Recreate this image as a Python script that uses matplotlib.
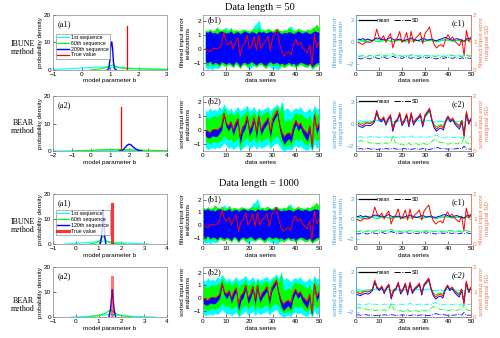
import matplotlib
matplotlib.use('Agg')
import matplotlib.pyplot as plt
import numpy as np

# --- Data ---
t_short = np.arange(1, 51)
true_err = [0.0, -0.1, -0.2, 0.0, 0.05, 0.0, 0.1, 0.3, 1.2, 0.5,
            0.3, 0.6, 0.0, 0.5, 0.8, -0.5, 0.2, 0.4, 1.0, 0.0,
            0.3, 0.9, -0.1, 1.0, 0.0, 0.4, 0.6, 0.9, -0.1, 0.8,
            1.1, 1.4, 0.4, -0.2, -0.5, -0.3, -0.2, -0.4, 0.3, 0.7,
            0.3, 0.5, 0.1, -0.1, -0.3, 0.3, -1.2, 1.1, 0.1, 0.5]

# IBUNE filtered realizations (band edges)
ib_blue_hi = [1.25, 1.2, 1.3, 1.15, 1.2, 1.1, 1.25, 1.3, 1.2, 1.15,
              1.2, 1.3, 1.1, 1.2, 1.25, 1.1, 1.2, 1.3, 1.2, 1.15,
              1.25, 1.2, 1.1, 1.3, 1.2, 1.25, 1.15, 1.2, 1.3, 1.2,
              1.25, 1.35, 1.2, 1.1, 1.2, 1.15, 1.25, 1.2, 1.1, 1.2,
              1.3, 1.2, 1.15, 1.25, 1.2, 1.1, 1.2, 1.3, 1.25, 1.2]
ib_blue_lo = [-0.9, -1.0, -0.85, -1.1, -0.95, -1.0, -1.15, -0.9, -1.0, -1.1,
              -0.95, -1.05, -1.2, -0.9, -1.0, -1.25, -1.0, -0.95, -1.1, -1.0,
              -0.9, -1.05, -1.15, -1.0, -0.95, -1.1, -1.2, -1.0, -0.9, -1.05,
              -1.0, -0.95, -1.1, -1.0, -1.15, -1.05, -0.95, -1.1, -1.0, -1.2,
              -1.05, -0.95, -1.0, -1.1, -1.15, -1.0, -1.3, -1.1, -1.0, -0.95]
ib_green_hi = [1.4, 1.3, 1.45, 1.3, 1.35, 1.6, 1.4, 1.35, 1.5, 1.3,
               1.35, 1.55, 1.3, 1.4, 1.35, 1.3, 1.45, 1.4, 1.35, 1.3,
               1.4, 1.5, 1.35, 1.6, 1.3, 1.4, 1.35, 1.5, 1.4, 1.3,
               1.45, 1.5, 1.35, 1.3, 1.4, 1.35, 1.6, 1.4, 1.3, 1.35,
               1.5, 1.4, 1.35, 1.3, 1.45, 1.35, 1.5, 1.6, 1.8, 1.5]
ib_green_lo = [-1.1, -1.25, -1.0, -1.2, -1.15, -1.1, -1.3, -1.05, -1.2, -1.25,
               -1.1, -1.2, -1.35, -1.05, -1.2, -1.4, -1.15, -1.1, -1.3, -1.2,
               -1.05, -1.2, -1.3, -1.15, -1.1, -1.25, -1.4, -1.2, -1.05, -1.2,
               -1.15, -1.1, -1.3, -1.2, -1.35, -1.2, -1.1, -1.25, -1.2, -1.35,
               -1.2, -1.1, -1.2, -1.3, -1.3, -1.15, -1.45, -1.3, -1.2, -1.1]
ib_cyan_hi = [1.35, 1.3, 1.4, 1.3, 1.3, 1.5, 1.35, 1.3, 1.45, 1.6,
              1.3, 1.5, 1.3, 1.35, 1.3, 1.3, 1.4, 1.35, 1.3, 1.3,
              1.35, 1.7, 1.8, 2.1, 1.5, 1.35, 1.3, 1.45, 1.35, 1.3,
              1.4, 1.45, 1.3, 1.3, 1.35, 1.3, 1.5, 1.7, 1.3, 1.3,
              1.45, 1.35, 1.3, 1.3, 1.4, 1.3, 1.45, 1.55, 1.7, 1.45]
ib_cyan_lo = [-1.3, -1.45, -1.35, -1.5, -1.3, -1.4, -1.35, -1.05, -1.15, -1.2,
              -1.05, -1.15, -1.3, -1.0, -1.15, -1.35, -1.1, -1.05, -1.3, -1.45,
              -1.3, -1.15, -1.25, -1.1, -1.05, -1.2, -1.35, -1.15, -1.3, -1.4,
              -1.35, -1.5, -1.4, -1.15, -1.3, -1.15, -1.05, -1.2, -1.15, -1.3,
              -1.15, -1.05, -1.15, -1.25, -1.25, -1.1, -1.4, -1.25, -1.15, -1.05]

# BEAR sorted realizations (band edges)
bear_cyan_hi = [1.5, 1.3, 1.6, 1.4, 1.5, 1.35, 1.7, 1.5, 1.9, 1.6,
                1.4, 1.6, 1.3, 1.5, 1.7, 1.4, 1.5, 1.6, 1.8, 1.4,
                1.5, 1.7, 1.3, 1.6, 1.4, 1.5, 1.6, 1.7, 1.4, 1.6,
                1.7, 1.9, 1.5, 2.1, 1.4, 1.6, 1.5, 1.3, 1.5, 1.6,
                1.5, 1.7, 1.4, 1.3, 1.4, 1.6, 1.3, 1.8, 1.5, 1.6]
bear_cyan_lo = [-1.2, -1.4, -1.3, -1.25, -1.35, -1.2, -1.3, -1.15, -0.9, -1.1,
                -1.3, -1.2, -1.4, -1.25, -1.1, -1.5, -1.3, -1.2, -1.0, -1.35,
                -1.2, -1.05, -1.4, -1.1, -1.3, -1.2, -1.15, -1.0, -1.35, -1.1,
                -1.0, -0.9, -1.2, -1.4, -1.5, -1.4, -1.35, -1.45, -1.2, -1.1,
                -1.25, -1.15, -1.3, -1.4, -1.45, -1.2, -1.5, -1.0, -1.3, -1.2]
bear_green_hi = [1.0, 0.9, 0.8, 1.0, 1.05, 0.95, 1.1, 1.2, 1.6, 1.3,
                 1.1, 1.3, 1.0, 1.2, 1.4, 0.8, 1.1, 1.2, 1.5, 1.0,
                 1.1, 1.4, 0.9, 1.5, 1.0, 1.2, 1.3, 1.4, 0.9, 1.4,
                 1.5, 1.7, 1.2, 2.0, 0.6, 0.7, 0.8, 0.7, 1.1, 1.3,
                 1.1, 1.2, 1.0, 0.9, 0.8, 1.1, 0.5, 1.6, 1.0, 1.2]
bear_green_lo = [-0.8, -0.9, -1.0, -0.85, -0.8, -0.9, -0.8, -0.7, -0.4, -0.6,
                 -0.7, -0.6, -0.9, -0.7, -0.6, -1.4, -0.8, -0.7, -0.5, -0.9,
                 -0.7, -0.5, -1.0, -0.5, -0.9, -0.7, -0.6, -0.5, -1.0, -0.6,
                 -0.5, -0.4, -0.7, -1.0, -1.2, -1.1, -1.0, -1.2, -0.8, -0.6,
                 -0.8, -0.6, -0.8, -1.0, -1.1, -0.8, -1.4, -0.5, -0.8, -0.6]
bear_blue_below = [0.4, 0.45, 0.35, 0.4, 0.5, 0.45, 0.35, 0.3, 0.25, 0.3,
                   0.35, 0.3, 0.4, 0.35, 0.3, 0.5, 0.4, 0.35, 0.3, 0.45,
                   0.35, 0.3, 0.45, 0.3, 0.4, 0.35, 0.3, 0.3, 0.45, 0.3,
                   0.25, 0.25, 0.35, 0.45, 0.5, 0.45, 0.4, 0.5, 0.35, 0.3,
                   0.35, 0.3, 0.4, 0.45, 0.5, 0.35, 0.2, 0.25, 0.4, 0.3]
bear_blue_above = [0.05, 0.08, 0.05, 0.06, 0.05, 0.07, 0.05, 0.06, 0.04, 0.05,
                   0.06, 0.05, 0.07, 0.05, 0.04, 0.08, 0.06, 0.05, 0.04, 0.07,
                   0.05, 0.04, 0.07, 0.05, 0.06, 0.05, 0.05, 0.04, 0.07, 0.05,
                   0.04, 0.04, 0.05, 0.07, 0.08, 0.07, 0.06, 0.08, 0.05, 0.05,
                   0.05, 0.05, 0.06, 0.07, 0.08, 0.05, 0.04, 0.04, 0.06, 0.05]

# marginal statistics (IBUNE)
ib_mean_cyan = [0.25, 0.2, 0.15, 0.2, 0.25, 0.2, 0.15, 0.2, 0.3, 0.2,
                0.15, 0.2, 0.25, 0.2, 0.15, 0.1, 0.2, 0.25, 0.2, 0.15,
                0.2, 0.25, 0.2, 0.3, 0.2, 0.15, 0.2, 0.25, 0.2, 0.15,
                0.2, 0.25, 0.2, 0.15, 0.1, 0.15, 0.2, 0.25, 0.2, 0.2,
                0.25, 0.2, 0.15, 0.2, 0.25, 0.2, 0.1, 0.3, 0.2, 0.25]
ib_mean_green = [0.1, 0.15, 0.1, 0.05, 0.1, 0.15, 0.2, 0.15, 0.1, 0.05,
                 0.1, 0.15, 0.2, 0.15, 0.1, 0.05, 0.1, 0.15, 0.2, 0.1,
                 0.05, 0.1, 0.15, 0.1, 0.2, 0.25, 0.15, 0.1, 0.05, 0.1,
                 0.15, 0.2, 0.15, 0.1, 0.05, 0.1, 0.15, 0.2, 0.25, 0.2,
                 0.15, 0.1, 0.15, 0.2, 0.15, 0.1, 0.05, 0.2, 0.15, 0.1]
ib_mean_blue = [0.3, 0.25, 0.35, 0.2, 0.3, 0.25, 0.15, 0.3, 0.4, 0.35,
                0.25, 0.3, 0.2, 0.35, 0.45, 0.3, 0.2, 0.25, 0.3, 0.2,
                0.15, 0.25, 0.3, 0.4, 0.3, 0.2, 0.15, 0.25, 0.35, 0.3,
                0.2, 0.25, 0.3, 0.2, 0.15, 0.25, 0.3, 0.4, 0.45, 0.35,
                0.25, 0.2, 0.3, 0.35, 0.25, 0.2, 0.1, 0.3, 0.4, 0.3]
ib_sd_cyan = [0.52, 0.5, 0.54, 0.51, 0.49, 0.52, 0.55, 0.5, 0.52, 0.53,
              0.5, 0.48, 0.52, 0.55, 0.53, 0.5, 0.52, 0.51, 0.54, 0.5,
              0.52, 0.53, 0.5, 0.55, 0.52, 0.5, 0.51, 0.53, 0.5, 0.52,
              0.54, 0.5, 0.52, 0.51, 0.5, 0.53, 0.55, 0.52, 0.5, 0.52,
              0.51, 0.53, 0.5, 0.52, 0.54, 0.51, 0.5, 0.53, 0.52, 0.5]
ib_sd_green = [0.48, 0.5, 0.52, 0.47, 0.5, 0.53, 0.5, 0.48, 0.52, 0.55,
               0.58, 0.53, 0.5, 0.52, 0.56, 0.6, 0.55, 0.5, 0.52, 0.48,
               0.5, 0.53, 0.5, 0.55, 0.57, 0.52, 0.5, 0.48, 0.5, 0.52,
               0.5, 0.55, 0.52, 0.49, 0.5, 0.52, 0.5, 0.48, 0.5, 0.52,
               0.55, 0.53, 0.5, 0.52, 0.5, 0.48, 0.52, 0.55, 0.5, 0.52]
ib_sd_blue = [0.42, 0.4, 0.43, 0.45, 0.42, 0.4, 0.44, 0.46, 0.43, 0.41,
              0.44, 0.47, 0.43, 0.42, 0.45, 0.5, 0.46, 0.43, 0.44, 0.42,
              0.45, 0.48, 0.44, 0.42, 0.46, 0.43, 0.41, 0.44, 0.47, 0.45,
              0.43, 0.46, 0.44, 0.42, 0.4, 0.43, 0.45, 0.42, 0.44, 0.47,
              0.44, 0.42, 0.45, 0.43, 0.41, 0.44, 0.42, 0.45, 0.43, 0.42]

# marginal statistics (BEAR)
bear_mean_cyan = [0.2, 0.25, 0.2, 0.15, 0.2, 0.25, 0.2, 0.2, 0.3, 0.25,
                  0.2, 0.25, 0.2, 0.2, 0.25, 0.15, 0.2, 0.2, 0.25, 0.2,
                  0.2, 0.25, 0.15, 0.25, 0.2, 0.2, 0.25, 0.25, 0.15, 0.2,
                  0.25, 0.3, 0.2, 0.15, 0.15, 0.2, 0.2, 0.15, 0.2, 0.25,
                  0.2, 0.25, 0.2, 0.2, 0.15, 0.2, 0.1, 0.3, 0.2, 0.25]
bear_mean_green = [0.1, 0.05, 0.0, 0.1, 0.1, 0.1, 0.15, 0.3, 0.9, 0.45,
                   0.3, 0.5, 0.1, 0.4, 0.6, -0.3, 0.2, 0.35, 0.8, 0.1,
                   0.3, 0.7, 0.0, 0.8, 0.1, 0.35, 0.5, 0.7, 0.0, 0.6,
                   0.85, 1.1, 0.35, -0.1, -0.3, -0.15, -0.1, -0.2, 0.3, 0.55,
                   0.3, 0.4, 0.15, 0.0, -0.15, 0.3, -0.8, 0.85, 0.15, 0.4]
bear_mean_blue = [-0.2, -0.3, -0.35, -0.2, -0.15, -0.2, -0.1, 0.15, 1.0, 0.35,
                  0.15, 0.45, -0.15, 0.35, 0.65, -0.7, 0.05, 0.25, 0.85, -0.2,
                  0.15, 0.75, -0.3, 0.85, -0.15, 0.25, 0.45, 0.75, -0.3, 0.65,
                  0.95, 1.25, 0.25, -0.4, -0.7, -0.5, -0.4, -0.6, 0.15, 0.55,
                  0.15, 0.35, -0.05, -0.3, -0.5, 0.15, -1.1, 0.95, -0.05, 0.35]
bear_sd_cyan = [0.5, 0.52, 0.5, 0.48, 0.5, 0.52, 0.54, 0.5, 0.52, 0.5,
                0.48, 0.5, 0.52, 0.5, 0.49, 0.52, 0.5, 0.48, 0.5, 0.52,
                0.5, 0.53, 0.5, 0.55, 0.5, 0.48, 0.5, 0.52, 0.5, 0.49,
                0.5, 0.52, 0.5, 0.55, 0.58, 0.53, 0.5, 0.48, 0.5, 0.52,
                0.5, 0.49, 0.5, 0.52, 0.5, 0.48, 0.5, 0.53, 0.5, 0.52]
bear_sd_green = [0.35, 0.38, 0.36, 0.34, 0.33, 0.3, 0.28, 0.3, 0.26, 0.28,
                 0.25, 0.27, 0.3, 0.26, 0.3, 0.55, 0.32, 0.28, 0.24, 0.26,
                 0.22, 0.24, 0.3, 0.22, 0.25, 0.28, 0.24, 0.22, 0.3, 0.26,
                 0.24, 0.28, 0.35, 0.42, 0.38, 0.34, 0.3, 0.32, 0.28, 0.25,
                 0.27, 0.3, 0.28, 0.26, 0.3, 0.28, 0.5, 0.3, 0.26, 0.28]
bear_sd_blue = [0.08, 0.09, 0.07, 0.08, 0.1, 0.08, 0.07, 0.08, 0.06, 0.07,
                0.08, 0.07, 0.09, 0.08, 0.07, 0.1, 0.08, 0.07, 0.06, 0.08,
                0.09, 0.07, 0.08, 0.06, 0.08, 0.09, 0.07, 0.07, 0.09, 0.08,
                0.07, 0.06, 0.08, 0.1, 0.14, 0.11, 0.09, 0.1, 0.08, 0.07,
                0.08, 0.07, 0.08, 0.09, 0.1, 0.08, 0.18, 0.07, 0.08, 0.07]

# posterior densities of parameter b
b_true = 1.6
true_height = 16
dens_r1 = {
    'cyan': ([-1, -0.5, 0, 0.5, 1.0, 1.5, 2.0, 2.5, 3.0],
             [0.2, 0.4, 0.7, 1.0, 1.0, 0.8, 0.5, 0.3, 0.15]),
    'green': ([0.3, 0.6, 0.9, 1.0, 1.1, 1.2, 1.4, 1.6, 2.0, 2.5, 3.0],
              [0.0, 0.3, 1.0, 1.6, 1.8, 1.3, 0.7, 0.5, 0.4, 0.3, 0.25]),
    'blue': ([0.9, 0.96, 1.0, 1.03, 1.06, 1.09, 1.12, 1.16, 1.22],
             [0.0, 0.5, 4.0, 9.5, 10.2, 8.0, 3.0, 0.5, 0.0]),
}
dens_r2 = {
    'cyan': ([-2, -1, 0, 1, 2, 3, 4], [0.05, 0.1, 0.2, 0.25, 0.2, 0.12, 0.05]),
    'green': ([-1, 0, 0.5, 1.0, 1.5, 2.0, 2.5, 3.0, 4.0],
              [0.05, 0.3, 0.45, 0.55, 0.6, 0.5, 0.4, 0.3, 0.15]),
    'blue': ([1.5, 1.7, 1.8, 1.9, 2.0, 2.1, 2.2, 2.35, 2.5, 2.7],
             [0, 0.5, 1.3, 2.1, 2.5, 2.3, 1.6, 0.8, 0.3, 0.0]),
}
dens_r3 = {
    'cyan': ([-0.5, 0, 0.5, 1.0, 1.2, 1.5, 2.0, 2.5, 3.2],
             [0, 0.25, 0.6, 1.0, 1.2, 0.9, 0.5, 0.25, 0.0]),
    'green': ([0.6, 0.9, 1.05, 1.15, 1.2, 1.25, 1.35, 1.5, 1.8, 2.2],
              [0, 0.5, 1.5, 2.6, 3.0, 2.5, 1.2, 0.5, 0.1, 0]),
    'blue': ([1.08, 1.13, 1.17, 1.2, 1.23, 1.27, 1.32],
             [0, 3, 9, 13.5, 9, 3, 0]),
}
dens_r4 = {
    'cyan': ([-0.2, 0.5, 1.0, 1.3, 1.5, 1.7, 2.0, 2.5, 3.5],
             [0, 0.3, 0.6, 0.9, 1.1, 0.9, 0.6, 0.3, 0.0]),
    'green': ([0.5, 1.0, 1.3, 1.45, 1.55, 1.65, 1.8, 2.0, 2.5],
              [0, 0.6, 1.5, 2.5, 2.6, 2.0, 1.2, 0.6, 0]),
    'blue': ([1.45, 1.52, 1.57, 1.6, 1.63, 1.68, 1.75],
             [0, 3, 8, 11, 8, 3, 0]),
}

# --- Style ---
SANS = 'Liberation Sans'
SERIF = 'Liberation Serif'
CYAN, GREEN, BLUE, RED = '#00FFFF', '#00FF00', '#0000FF', '#FF0000'
LEFT_C = '#4DA3E0'
RIGHT_C = '#F07A4E'
FS = 4.6

plt.rcParams['font.family'] = SANS
plt.rcParams['axes.linewidth'] = 0.5

fig = plt.figure(figsize=(5.0, 3.38), dpi=100)

col_x = [0.106, 0.406, 0.712]
col_w = [0.228, 0.232, 0.230]
row_y = [0.793, 0.553, 0.278, 0.062]
row_h = [0.163, 0.163, 0.148, 0.148]


def style_axes(ax):
    ax.tick_params(direction='in', length=2, width=0.4, labelsize=FS, pad=1.5)
    for s in ax.spines.values():
        s.set_color('#888888')
        s.set_linewidth(0.5)


def density_panel(ax, dens, xlim, tag, legend_labels=None, thick_red=False, red_alpha=1.0):
    ax.plot(*dens['cyan'], color=CYAN, lw=0.8, label=legend_labels[0] if legend_labels else None)
    ax.plot(*dens['green'], color=GREEN, lw=0.8, label=legend_labels[1] if legend_labels else None)
    ax.plot(*dens['blue'], color=BLUE, lw=1.0, label=legend_labels[2] if legend_labels else None)
    ax.plot([b_true, b_true], [0, true_height], color=RED, alpha=red_alpha,
            lw=2.2 if thick_red else 0.9,
            label=legend_labels[3] if legend_labels else None)
    ax.set_xlim(*xlim)
    ax.set_ylim(0, 20)
    ax.set_yticks([0, 10, 20])
    ax.set_xticks(np.arange(xlim[0], xlim[1] + 1))
    ax.set_xlabel('model parameter b', fontsize=FS, labelpad=1)
    ax.set_ylabel('probability density', fontsize=FS, labelpad=0.5)
    ax.text(0.04, 0.9, tag, transform=ax.transAxes, fontsize=6, family=SERIF, va='top')
    style_axes(ax)
    if legend_labels:
        leg = ax.legend(loc='center left', bbox_to_anchor=(0.0, 0.43), fontsize=3.8,
                        frameon=True, fancybox=False, handlelength=2.2,
                        borderpad=0.3, labelspacing=0.15, handletextpad=0.4)
        leg.get_frame().set_linewidth(0.4)
        leg.get_frame().set_edgecolor('#555555')


def band_panel(ax, x, bands, tag, ylabel):
    for lo, hi, c in bands:
        ax.fill_between(x, lo, hi, color=c, lw=0)
    ax.plot(x, true_err, color=RED, lw=0.7)
    ax.set_xlim(0, 50)
    ax.set_ylim(-1.5, 2.45)
    ax.set_yticks([-1, 0, 1, 2])
    ax.set_xticks([0, 10, 20, 30, 40, 50])
    ax.set_ylabel(ylabel, fontsize=FS, labelpad=2)
    ax.set_xlabel('data series', fontsize=FS, labelpad=1)
    ax.text(0.04, 0.97, tag, transform=ax.transAxes, fontsize=6, family=SERIF, va='top')
    style_axes(ax)


def stats_panel(ax, x, means, sds, tag, lab_left, lab_right, italic_tag=False):
    ax2 = ax.twinx()
    for m, c in means:
        ax.plot(x, m, color=c, lw=0.7)
    ax.plot(x, true_err, color=RED, lw=0.7)
    for s, c in sds:
        ax2.plot(x, s, color=c, lw=0.6, ls='-.')
    ax.set_xlim(0, 50)
    ax.set_ylim(-2.5, 2.5)
    ax.set_yticks([-2, 0, 2])
    ax2.set_ylim(0, 2)
    ax2.set_yticks([0, 1, 2])
    ax.set_xticks([0, 10, 20, 30, 40, 50])
    ax.set_xlabel('data series', fontsize=FS, labelpad=1)
    ax.set_ylabel(lab_left, fontsize=FS, color=LEFT_C, labelpad=2)
    ax2.set_ylabel(lab_right, fontsize=FS, color=RIGHT_C, labelpad=2)
    style_axes(ax)
    style_axes(ax2)
    ax.tick_params(axis='y', colors=LEFT_C, labelsize=FS)
    ax2.tick_params(axis='y', colors=RIGHT_C, labelsize=FS)
    ax2.spines['left'].set_color(LEFT_C)
    ax2.spines['right'].set_color(RIGHT_C)
    h1, = ax.plot([], [], color='k', lw=0.9, ls='-')
    h2, = ax.plot([], [], color='k', lw=0.7, ls='-.')
    ax.legend([h1, h2], ['mean', 'SD'], loc='upper left', ncol=2, frameon=False,
              fontsize=3.8, handlelength=3.2, handletextpad=0.2, columnspacing=0.6,
              borderaxespad=0.2)
    ax.text(0.95, 0.92, tag, transform=ax.transAxes, fontsize=6, family=SERIF,
            va='top', ha='right', style='italic' if italic_tag else 'normal')


x_long = np.linspace(0, 50, 50)

ibune_bands = [(ib_cyan_lo, ib_cyan_hi, CYAN), (ib_green_lo, ib_green_hi, GREEN),
               (ib_blue_lo, ib_blue_hi, BLUE)]
bear_blue_lo = np.array(true_err) - np.array(bear_blue_below)
bear_blue_hi = np.array(true_err) + np.array(bear_blue_above)
bear_bands = [(bear_cyan_lo, bear_cyan_hi, CYAN), (bear_green_lo, bear_green_hi, GREEN),
              (bear_blue_lo, bear_blue_hi, BLUE)]

ib_means = [(ib_mean_cyan, CYAN), (ib_mean_green, GREEN), (ib_mean_blue, BLUE)]
ib_sds = [(ib_sd_cyan, CYAN), (ib_sd_green, GREEN), (ib_sd_blue, BLUE)]
bear_means = [(bear_mean_cyan, CYAN), (bear_mean_green, GREEN), (bear_mean_blue, BLUE)]
bear_sds = [(bear_sd_cyan, CYAN), (bear_sd_green, GREEN), (bear_sd_blue, BLUE)]

for r in range(4):
    axa = fig.add_axes([col_x[0], row_y[r], col_w[0], row_h[r]])
    axb = fig.add_axes([col_x[1], row_y[r], col_w[1], row_h[r]])
    axc = fig.add_axes([col_x[2], row_y[r], col_w[2], row_h[r]])
    x = t_short if r < 2 else x_long
    if r == 0:
        density_panel(axa, dens_r1, (-1, 3), '(a1)',
                      ['1st sequence', '60th sequence', '200th sequence', 'True value'])
    elif r == 1:
        density_panel(axa, dens_r2, (-2, 4), '(a2)')
    elif r == 2:
        density_panel(axa, dens_r3, (-1, 4), '(a1)',
                      ['1st sequence', '60th sequence', '120th sequence', 'True value'],
                      thick_red=True, red_alpha=0.8)
    else:
        density_panel(axa, dens_r4, (-1, 4), '(a2)', thick_red=True, red_alpha=0.55)
    if r % 2 == 0:
        band_panel(axb, x, ibune_bands, '(b1)', 'filtered input error\nrealizations')
        stats_panel(axc, x, ib_means, ib_sds, '(c1)',
                    'filtered input error\nmarginal mean', 'filtered input error\nmarginal SD')
    else:
        band_panel(axb, x, bear_bands, '(b2)', 'sorted input error\nrealizations')
        stats_panel(axc, x, bear_means, bear_sds, '(c2)',
                    'sorted input error\nmarginal mean', 'sorted input error\nmarginal SD',
                    italic_tag=(r == 3))

# row labels and titles
row_label_y = [1 - 48 / 338, 1 - 127 / 338, 1 - 226 / 338, 1 - 305 / 338]
row_labels = ['IBUNE\nmethod', 'BEAR\nmethod', 'IBUNE\nmethod', 'BEAR\nmethod']
for yy, lab in zip(row_label_y, row_labels):
    fig.text(0.046, yy, lab, family=SERIF, fontsize=5.8, ha='center', va='center',
             linespacing=1.1)

fig.text(0.52, 1 - 7 / 338, 'Data length = 50', family=SERIF, fontsize=7.5,
         ha='center', va='center')
fig.text(0.518, 1 - 183 / 338, 'Data length = 1000', family=SERIF, fontsize=7.5,
         ha='center', va='center')

fig.savefig('out.png', dpi=100)
